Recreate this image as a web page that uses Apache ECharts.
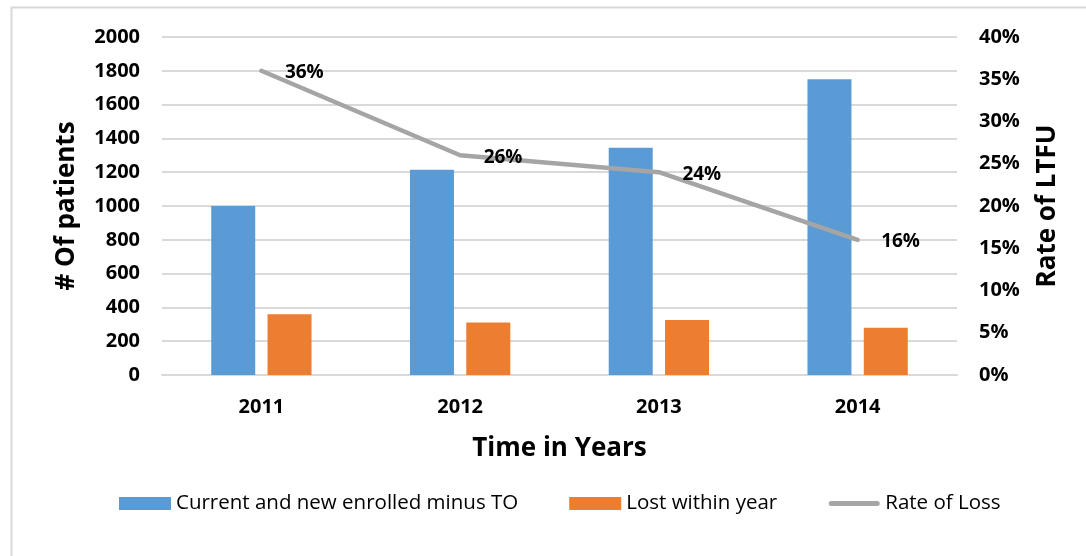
<!DOCTYPE html>
<html>
<head>
<meta charset="utf-8">
<script src="https://cdn.jsdelivr.net/npm/echarts@6/dist/echarts.min.js"></script>
<style>
html,body{margin:0;padding:0;background:#fff;}
#chart{width:1086px;height:556px;}
</style>
</head>
<body>
<div id="chart"></div>
<script>
const categories = ['2011', '2012', '2013', '2014'];
const enrolled = [1000, 1215, 1345, 1750];
const lost = [360, 310, 325, 280];
const rateOfLoss = [0.36, 0.26, 0.24, 0.16];
const seriesNames = ['Current and new enrolled minus TO', 'Lost within year', 'Rate of Loss'];

const FONT = '"Open Sans", "Liberation Sans", sans-serif';
const LINE_ICON = 'path://M0,0L0,0M52,13L52,13M3,4L49,4A2.5,2.5,0,0,1,49,9L3,9A2.5,2.5,0,0,1,3,4Z';
const chart = echarts.init(document.getElementById('chart'));
chart.setOption({
  animation: false,
  textStyle: { fontFamily: FONT },
  graphic: [{
    type: 'rect', shape: { x: 11.5, y: 7.5, width: 1200, height: 700 },
    style: { fill: 'none', stroke: '#d9d9d9', lineWidth: 2 }, silent: true, z: -10
  }],
  grid: { left: 162, right: 129, top: 37, bottom: 181, containLabel: false },
  legend: {
    bottom: 37,
    left: 114,
    itemWidth: 52,
    itemHeight: 13,
    itemGap: 51,
    textStyle: { fontFamily: FONT, fontSize: 20.5, color: '#000' },
    data: [
      { name: seriesNames[0], icon: 'rect' },
      { name: seriesNames[1], icon: 'rect' },
      { name: seriesNames[2], icon: LINE_ICON, itemStyle: { color: '#A5A5A5' } }
    ]
  },
  xAxis: {
    type: 'category',
    data: categories,
    name: 'Time in Years',
    nameLocation: 'middle',
    nameGap: 61,
    nameTextStyle: { fontFamily: FONT, fontSize: 26, fontWeight: 'bold', color: '#000' },
    axisLine: { show: true, lineStyle: { color: '#d9d9d9', width: 2 } },
    axisTick: { show: false },
    axisLabel: { fontFamily: FONT, fontSize: 20, fontWeight: 'bold', color: '#000', margin: 22 }
  },
  yAxis: [{
    type: 'value', min: 0, max: 2000, interval: 200,
    name: '# Of patients',
    nameLocation: 'middle',
    nameRotate: 90,
    nameGap: 82,
    nameTextStyle: { fontFamily: FONT, fontSize: 26, fontWeight: 'bold', color: '#000' },
    axisLine: { show: false }, axisTick: { show: false },
    axisLabel: { fontFamily: FONT, fontSize: 20, fontWeight: 'bold', color: '#000', margin: 22,
      formatter: v => String(v) },
    splitLine: { lineStyle: { color: '#d9d9d9', width: 2 } }
  }, {
    type: 'value', min: 0, max: 0.4, interval: 0.05,
    name: 'Rate of LTFU',
    nameLocation: 'middle',
    nameRotate: 90,
    nameGap: 78,
    nameTextStyle: { fontFamily: FONT, fontSize: 26, fontWeight: 'bold', color: '#000' },
    axisLine: { show: false }, axisTick: { show: false },
    axisLabel: { fontFamily: FONT, fontSize: 20, fontWeight: 'bold', color: '#000', margin: 22,
      formatter: v => Math.round(v * 100) + '%' },
    splitLine: { show: false }
  }],
  series: [{
    name: seriesNames[0], type: 'bar', data: enrolled, barWidth: 44, barGap: '28%',
    itemStyle: { color: '#5B9BD5' }
  }, {
    name: seriesNames[1], type: 'bar', data: lost, barWidth: 44,
    itemStyle: { color: '#ED7D31' }
  }, {
    name: seriesNames[2], type: 'line', yAxisIndex: 1, data: rateOfLoss,
    symbol: 'circle', symbolSize: 3, showSymbol: true, z: 5,
    lineStyle: { color: '#A5A5A5', width: 4.5, cap: 'round' },
    itemStyle: { color: '#A5A5A5' },
    label: { show: true, position: 'right', distance: 22, offset: [0, 2], fontFamily: FONT, fontSize: 19,
      fontWeight: 'bold', color: '#000', formatter: p => Math.round(p.value * 100) + '%' }
  }]
});
</script>
</body>
</html>
